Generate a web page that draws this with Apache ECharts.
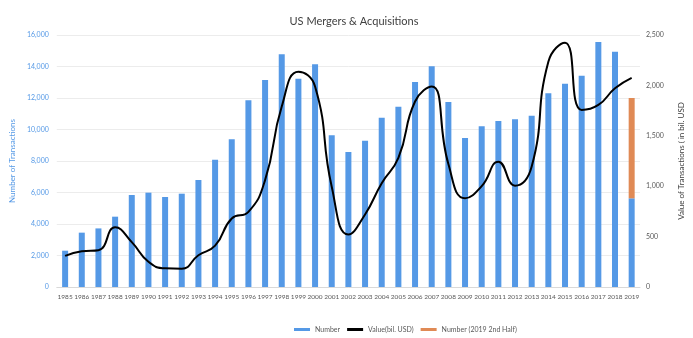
<!DOCTYPE html>
<html>
<head>
<meta charset="utf-8">
<script src="https://cdn.jsdelivr.net/npm/echarts@6/dist/echarts.min.js"></script>
<style>
  html, body { margin: 0; padding: 0; background: #fff; }
  #chart { width: 693px; height: 338px; }
</style>
</head>
<body>
<div id="chart"></div>
<script>
// US M&A activity, 1985-2019
const years = ['1985','1986','1987','1988','1989','1990','1991','1992','1993','1994',
  '1995','1996','1997','1998','1999','2000','2001','2002','2003','2004','2005','2006',
  '2007','2008','2009','2010','2011','2012','2013','2014','2015','2016','2017','2018','2019'];

// Number of transactions (2019: first half only)
const numberDeals = [2305, 3450, 3720, 4465, 5840, 5990, 5715, 5925, 6795, 8080,
  9375, 11850, 13140, 14770, 13230, 14135, 9630, 8570, 9290, 10750, 11450, 13015,
  14010, 11745, 9460, 10200, 10540, 10645, 10880, 12295, 12910, 13420, 15555, 14940, 5630];

// Number of transactions, 2019 second half
const numberSecondHalf = [null, null, null, null, null, null, null, null, null, null,
  null, null, null, null, null, null, null, null, null, null, null, null,
  null, null, null, null, null, null, null, null, null, null, null, null, 6370];

// Value of transactions, bil. USD
const dealValue = [308, 355, 365, 592, 445, 250, 185, 182, 315, 410,
  680, 745, 1060, 1790, 2136, 1990, 995, 520, 720, 1030, 1280, 1840,
  1990, 1220, 880, 1000, 1243, 1005, 1195, 2235, 2424, 1756, 1806, 1971, 2075];

const leftTicks = { min: 0, max: 16000, interval: 2000 };
const rightTicks = { min: 0, max: 2500, interval: 500 };

const blue = '#5599E6';
const orange = '#E08A55';
const fontFamily = 'Lato, "Open Sans", "Noto Sans", sans-serif';
const fmt = v => Number(v).toLocaleString('en-US');

const chart = echarts.init(document.getElementById('chart'), null, { renderer: 'canvas' });
chart.setOption({
  animation: false,
  backgroundColor: '#ffffff',
  textStyle: { fontFamily: fontFamily },
  title: {
    text: 'US Mergers & Acquisitions',
    left: 349, top: 11, textAlign: 'center',
    textStyle: { fontSize: 11, fontWeight: 'normal', color: '#404040', fontFamily: fontFamily }
  },
  legend: {
    left: 289, top: 321,
    itemWidth: 16, itemHeight: 3, itemGap: 7,
    textStyle: { fontSize: 7, color: '#595959', fontFamily: fontFamily },
    data: [
      { name: 'Number', icon: 'rect' },
      { name: 'Value(bil. USD)', icon: 'rect' },
      { name: 'Number (2019 2nd Half)', icon: 'rect' }
    ]
  },
  grid: { left: 42, right: 43, top: 35, bottom: 51 },
  xAxis: {
    type: 'category',
    data: years,
    axisTick: { show: false },
    axisLine: { lineStyle: { color: '#d9d9d9' } },
    axisLabel: { fontSize: 6.5, color: '#595959', interval: 0, margin: 6 }
  },
  yAxis: [
    {
      type: 'value',
      min: leftTicks.min, max: leftTicks.max, interval: leftTicks.interval,
      name: 'Number of Transactions',
      nameLocation: 'middle', nameGap: 34, nameRotate: 90,
      nameTextStyle: { fontSize: 8, color: blue },
      axisLine: { show: false }, axisTick: { show: false },
      axisLabel: { fontSize: 7, color: blue, formatter: fmt, margin: 8 },
      splitLine: { lineStyle: { color: '#ececec' } }
    },
    {
      type: 'value',
      min: rightTicks.min, max: rightTicks.max, interval: rightTicks.interval,
      name: 'Value of Transactions ( in bil. USD',
      nameLocation: 'middle', nameGap: 37, nameRotate: 90,
      nameTextStyle: { fontSize: 8, color: '#404040' },
      axisLine: { show: false }, axisTick: { show: false },
      axisLabel: { fontSize: 7, color: '#595959', formatter: fmt, margin: 6 },
      splitLine: { show: false }
    }
  ],
  series: [
    {
      name: 'Number', type: 'bar', stack: 'deals',
      data: numberDeals, barWidth: 6,
      itemStyle: { color: blue }
    },
    {
      name: 'Number (2019 2nd Half)', type: 'bar', stack: 'deals',
      data: numberSecondHalf, barWidth: 6,
      itemStyle: { color: orange }
    },
    {
      name: 'Value(bil. USD)', type: 'line', yAxisIndex: 1,
      data: dealValue, smooth: 0.5, showSymbol: false,
      lineStyle: { color: '#000000', width: 2 },
      itemStyle: { color: '#000000' },
      z: 5
    }
  ]
});
</script>
</body>
</html>
